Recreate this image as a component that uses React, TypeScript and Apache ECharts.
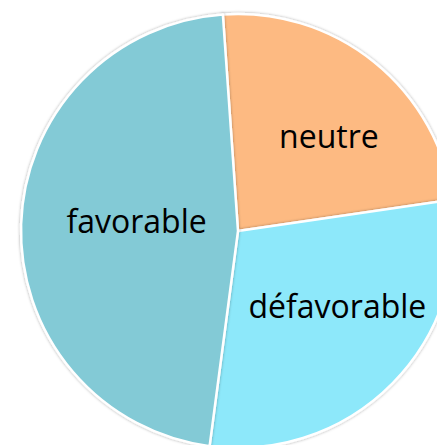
import React, { useEffect, useRef } from "react";
import * as echarts from "echarts";

const categories = ["neutre", "défavorable", "favorable"];
const values = [23.8, 29.4, 46.8];
const colors = ["#FDBA82", "#8DE8FA", "#83CAD6"];
const labelShift = [
  [21, -9],
  [20, -4],
  [10, -7],
];

export default function App() {
  const ref = useRef<HTMLDivElement>(null);
  useEffect(() => {
    document.body.style.margin = "0";
    const chart = echarts.init(ref.current!, null, { renderer: "svg" });
    chart.setOption({
      animation: false,
      series: [
        {
          type: "pie",
          center: [238, 231],
          radius: 217,
          startAngle: 94,
          clockwise: true,
          silent: true,
          data: categories.map((name, i) => ({
            name,
            value: values[i],
            itemStyle: { color: colors[i] },
          })),
          itemStyle: {
            borderColor: "#ffffff",
            borderWidth: 2.5,
            shadowBlur: 3,
            shadowColor: "rgba(0,0,0,0.35)",
          },
          label: {
            show: true,
            position: "inside",
            formatter: "{b}",
            color: "#000000",
            fontSize: 32,
            fontFamily: "Open Sans",
          },
          labelLine: { show: false },
          labelLayout: (p: any) => ({
            dx: labelShift[p.dataIndex][0],
            dy: labelShift[p.dataIndex][1],
          }),
        },
      ],
    });
    return () => chart.dispose();
  }, []);
  return <div ref={ref} style={{ width: 437, height: 445 }} />;
}
